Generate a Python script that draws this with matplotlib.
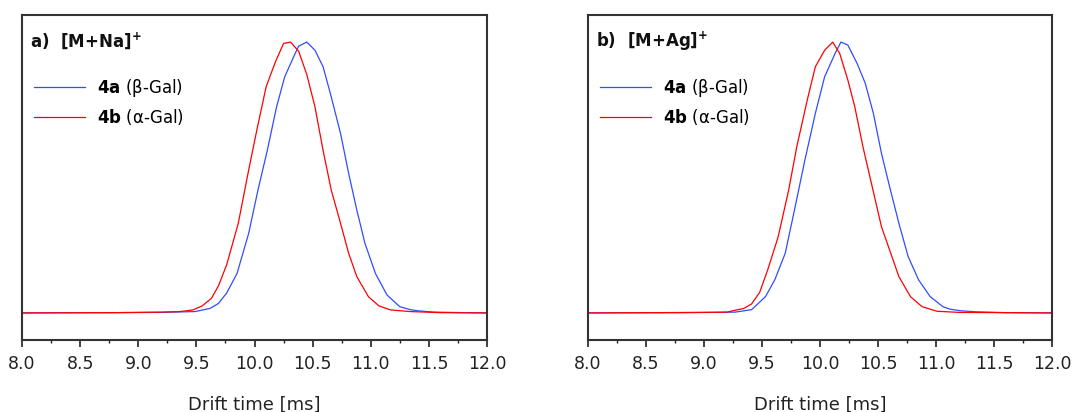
import matplotlib
matplotlib.use("Agg")
import matplotlib.pyplot as plt
from matplotlib.lines import Line2D
from matplotlib.ticker import MultipleLocator

plt.rcParams['font.family'] = ['DejaVu Sans']
plt.rcParams['mathtext.fontset'] = 'dejavusans'

# Normalised arrival-time distributions, panel a) [M+Na]+
na_beta_t = [8.0, 8.8, 9.2, 9.49, 9.62, 9.69, 9.76, 9.85, 9.95, 10.03, 10.11, 10.19,
             10.26, 10.35, 10.38, 10.45, 10.52, 10.59, 10.66, 10.74, 10.81, 10.88,
             10.95, 11.04, 11.14, 11.25, 11.34, 11.40, 11.54, 11.8, 12.0]
na_beta_i = [0.0, 0.001, 0.002, 0.005, 0.017, 0.035, 0.073, 0.146, 0.294, 0.454, 0.600, 0.761,
             0.872, 0.958, 0.985, 1.000, 0.970, 0.909, 0.798, 0.663, 0.515, 0.380,
             0.257, 0.146, 0.066, 0.023, 0.012, 0.008, 0.003, 0.001, 0.0]

na_alpha_t = [8.0, 8.8, 9.2, 9.36, 9.47, 9.55, 9.63, 9.69, 9.76, 9.86, 9.95, 10.02,
              10.10, 10.18, 10.25, 10.31, 10.38, 10.45, 10.52, 10.59, 10.66, 10.74,
              10.81, 10.88, 10.98, 11.07, 11.17, 11.34, 11.6, 12.0]
na_alpha_i = [0.0, 0.001, 0.003, 0.005, 0.011, 0.026, 0.054, 0.100, 0.177, 0.330, 0.528, 0.675,
              0.835, 0.927, 0.995, 1.000, 0.966, 0.880, 0.761, 0.600, 0.454, 0.331,
              0.220, 0.134, 0.060, 0.026, 0.011, 0.005, 0.001, 0.0]

# Panel b) [M+Ag]+
ag_beta_t = [8.0, 8.8, 9.1, 9.27, 9.41, 9.53, 9.61, 9.70, 9.78, 9.87, 9.96, 10.04,
             10.13, 10.18, 10.24, 10.32, 10.39, 10.46, 10.53, 10.60, 10.68, 10.76,
             10.85, 10.95, 11.06, 11.12, 11.21, 11.35, 11.6, 12.0]
ag_beta_i = [0.0, 0.001, 0.002, 0.003, 0.012, 0.060, 0.122, 0.220, 0.380, 0.565, 0.737, 0.872,
             0.958, 1.000, 0.989, 0.921, 0.848, 0.737, 0.589, 0.466, 0.331, 0.208,
             0.122, 0.060, 0.023, 0.014, 0.008, 0.004, 0.001, 0.0]

ag_alpha_t = [8.0, 8.6, 9.0, 9.20, 9.27, 9.34, 9.41, 9.48, 9.55, 9.64, 9.73, 9.80,
              9.89, 9.96, 10.04, 10.11, 10.17, 10.24, 10.30, 10.37, 10.45, 10.53,
              10.62, 10.68, 10.78, 10.88, 11.01, 11.2, 11.6, 12.0]
ag_alpha_i = [0.0, 0.001, 0.002, 0.003, 0.010, 0.016, 0.033, 0.076, 0.160, 0.282, 0.454, 0.614,
              0.786, 0.909, 0.970, 1.000, 0.958, 0.860, 0.761, 0.614, 0.466, 0.318,
              0.208, 0.134, 0.060, 0.023, 0.006, 0.002, 0.001, 0.0]

panel_titles = [r"a)  [M+Na]$^{\mathbf{+}}$", r"b)  [M+Ag]$^{\mathbf{+}}$"]
series_labels = [r"$\mathbf{4a}$ (β-Gal)", r"$\mathbf{4b}$ (α-Gal)"]
xtick_values = [8.0, 8.5, 9.0, 9.5, 10.0, 10.5, 11.0, 11.5, 12.0]

blue = '#2f4dff'
red = '#ff0000'

fig = plt.figure(figsize=(10.75, 4.12), dpi=100)
ax_a = fig.add_axes([22 / 1075, 1 - 340 / 412, 465 / 1075, 325 / 412])
ax_b = fig.add_axes([588 / 1075, 1 - 340 / 412, 464 / 1075, 325 / 412])

panels = [
    (ax_a, na_beta_t, na_beta_i, na_alpha_t, na_alpha_i, panel_titles[0]),
    (ax_b, ag_beta_t, ag_beta_i, ag_alpha_t, ag_alpha_i, panel_titles[1]),
]

for ax, bt, bi, at, ai, title in panels:
    ax.plot(bt, bi, color=blue, lw=0.9)
    ax.plot(at, ai, color=red, lw=0.9)
    ax.set_xlim(8.0, 12.0)
    ax.set_ylim(-0.1, 1.1)
    ax.set_yticks([])
    ax.set_xticks(xtick_values)
    ax.set_xticklabels([f"{v:.1f}" for v in xtick_values], fontsize=12.5)
    ax.xaxis.set_minor_locator(MultipleLocator(0.25))
    ax.tick_params(axis='x', which='major', direction='out', length=5, width=1.2,
                   pad=6, colors='#222222')
    ax.tick_params(axis='x', which='minor', direction='out', length=2.5, width=1.0,
                   colors='#222222')
    for sp in ax.spines.values():
        sp.set_linewidth(1.5)
        sp.set_color('#333333')
    ax.set_xlabel("Drift time [ms]", fontsize=13, labelpad=16, color='#222222')
    ax.text(0.018, 0.92, title, transform=ax.transAxes, fontsize=12,
            fontweight='bold', va='center', ha='left', color='#111111')
    handles = [Line2D([], [], color=blue, lw=0.9), Line2D([], [], color=red, lw=0.9)]
    ax.legend(handles, series_labels, loc='upper left', bbox_to_anchor=(0.025, 0.81),
              frameon=False, fontsize=12, handlelength=3.1, handletextpad=0.7,
              labelspacing=0.5, borderpad=0, borderaxespad=0)

fig.savefig("out.png", dpi=100)
